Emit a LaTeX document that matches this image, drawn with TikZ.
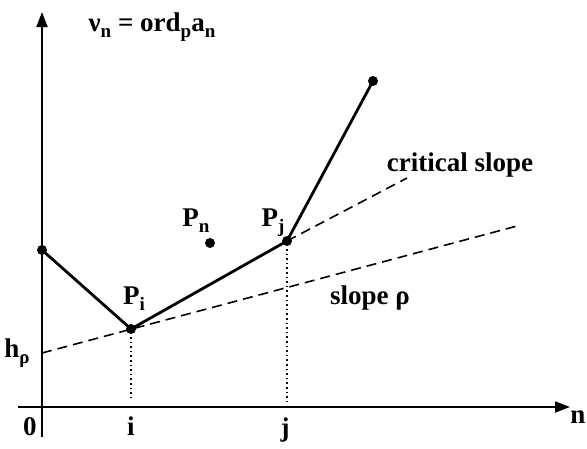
\documentclass[tikz,border=0pt]{standalone}
\usepackage{fontspec}
\setmainfont{Liberation Serif}
\usetikzlibrary{arrows.meta}
\newcommand{\sbx}[1]{\raisebox{-0.22em}{\fontsize{19}{20}\selectfont #1}}
\begin{document}
\begin{tikzpicture}[x=1pt,y=-1pt,
  font=\fontsize{27}{30}\selectfont\bfseries,
  dot/.style={circle,fill,inner sep=0pt,minimum size=10pt},
  poly/.style={line width=2.8pt},
  guide/.style={line width=1.6pt,dash pattern=on 10pt off 6pt},
  drop/.style={line width=1.6pt,dash pattern=on 1.6pt off 3pt},
  axis/.style={line width=1.8pt,-{Triangle[length=15pt,width=11pt]}},
  lbl/.style={inner sep=0pt}]
\useasboundingbox (0,0) rectangle (587,448);
% axes
\coordinate (ybot) at (42,437);
\coordinate (ytop) at (42,12);
\coordinate (xl) at (18,407);
\coordinate (xr) at (570,407);
\draw[axis] (ybot) -- (ytop);
\draw[axis] (xl) -- (xr);
% points
\node[dot] (A) at (42,250) {};
\node[dot] (Pi) at (131,329) {};
\node[dot] (Pj) at (287,241) {};
\node[dot] (T) at (373,81) {};
\node[dot] (Pn) at (210,243) {};
\coordinate (h) at (42,353);
\coordinate (rhoend) at (517,226);
\coordinate (critend) at (407,178);
\coordinate (ifoot) at (131,400);
\coordinate (jfoot) at (287,404);
% guide lines
\draw[guide] (h) -- (rhoend);
\draw[guide] (Pj.center) -- (critend);
\draw[drop] (Pi.center) ++(0,8) -- (ifoot);
\draw[drop] (Pj.center) ++(0,8) -- (jfoot);
% polygon
\draw[poly,line join=round] (A.center) -- (Pi.center) -- (Pj.center) -- (T.center);
% labels
\node[lbl] (ylab) at (152,27) {ν\sbx{n} = ord\sbx{p}a\sbx{n}};
\node[lbl] (hlab) at (17,353) {h\sbx{ρ}};
\node[lbl] (zero) at (30,427) {0};
\node[lbl] (ilab) at (131,426) {i};
\node[lbl] (jlab) at (285,430) {j};
\node[lbl] (nlab) at (578,417) {n};
\node[lbl] (Pilab) at (134,299) {P\sbx{i}};
\node[lbl] (Pjlab) at (273,223) {P\sbx{j}};
\node[lbl] (Pnlab) at (196,221) {P\sbx{n}};
\node[lbl] (crit) at (460,165) {critical slope};
\node[lbl] (slope) at (370,298) {slope ρ};
\end{tikzpicture}
\end{document}
